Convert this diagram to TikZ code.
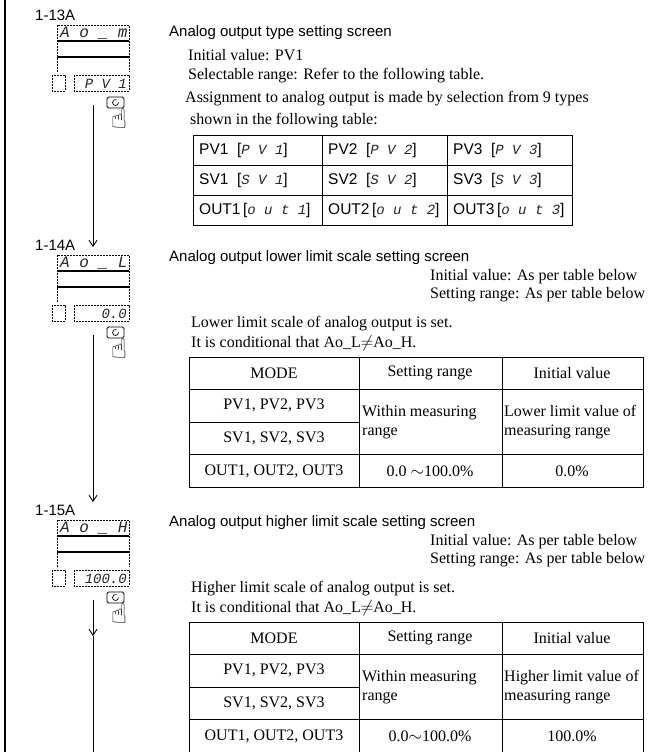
\documentclass[tikz,border=0pt]{standalone}
\usepackage{fontspec}
\setmainfont{Liberation Serif}
\setsansfont{Liberation Sans}
\newfontfamily\segfont{Liberation Mono}
\newfontfamily\symfont{DejaVu Sans}
\usetikzlibrary{arrows.meta}

\tikzset{
  head/.style={font=\sffamily\fontsize{15}{18}\selectfont, anchor=west, inner sep=0pt},
  body/.style={font=\fontsize{16}{19}\selectfont, anchor=west, inner sep=0pt},
  cell/.style={font=\fontsize{16}{19}\selectfont, inner sep=0pt},
  tcell/.style={font=\sffamily\fontsize{15.5}{18}\selectfont, anchor=west, inner sep=0pt},
  seg/.style={font=\segfont\itshape\fontsize{16}{16}\selectfont, text=black!85, inner sep=0pt},
  segval/.style={seg, font=\segfont\itshape\fontsize{14}{14}\selectfont},
  dotbox/.style={line width=0.9pt, dash pattern=on 1.6pt off 1.4pt},
  segline/.style={line width=1.1pt},
  tabline/.style={line width=1pt},
  flow/.style={line width=0.9pt},
  tipv/.style={-{Straight Barb[length=6pt,width=8pt]}},
}

\newcommand\seg[1]{{\segfont\itshape\fontsize{14}{14}\selectfont\color{black!85}#1}}

% display panel: #1 top, #2 label, #3 top text, #4 value, #5 name
\newcommand\panel[5]{%
  \node[head, anchor=west] (#5lbl) at (35,#1-10) {#2};
  \draw[dotbox] (57,#1+47) -- (57,#1) -- (129,#1) -- (129,#1+47);
  \draw[segline] (57,#1+16) -- (129,#1+16);
  \draw[segline] (57,#1+32) -- (129,#1+32);
  \node[seg, anchor=west] (#5top) at (60,#1+8.5) {#3};
  \draw[dotbox] (52,#1+50) rectangle (65,#1+66);
  \draw[dotbox] (74,#1+50) rectangle (129,#1+66);
  \node[segval, anchor=east] (#5val) at (127,#1+58.5) {#4};
  \draw[line width=0.9pt, rounded corners=1.5pt] (107,#1+72) rectangle (124,#1+83);
  \draw[line width=0.7pt] (118.5,#1+77.5) arc[start angle=0, end angle=290, radius=3];
  \node[font=\symfont\fontsize{27}{27}\selectfont, inner sep=0pt] (#5hand) at (119,#1+94) {☝};
  \coordinate (#5out) at (93,#1+80);
}

% mode table: #1 top, #2 name, #3 limit word, #4 range text, #5 initial value
\newcommand\modetable[5]{%
  \draw[tabline] (189,#1) rectangle (643,#1+130);
  \draw[tabline] (189,#1+32) -- (643,#1+32);
  \draw[tabline] (189,#1+65) -- (359,#1+65);
  \draw[tabline] (189,#1+97) -- (643,#1+97);
  \draw[tabline] (359,#1) -- (359,#1+130);
  \draw[tabline] (502,#1) -- (502,#1+130);
  \node[cell] (#2mode) at (274,#1+16) {MODE};
  \node[cell] (#2set) at (430,#1+16) {Setting range};
  \node[cell] (#2ini) at (572,#1+16) {Initial value};
  \node[cell] (#2pv) at (274,#1+48) {PV1, PV2, PV3};
  \node[cell] (#2sv) at (274,#1+81) {SV1, SV2, SV3};
  \node[cell] (#2out) at (274,#1+114) {OUT1, OUT2, OUT3};
  \node[cell, anchor=west, align=left] (#2within) at (362,#1+65) {Within measuring\\range};
  \node[cell, anchor=west, align=left] (#2limit) at (504,#1+65) {#3 limit value of\\measuring range};
  \node[cell] (#2outset) at (430,#1+114) {#4};
  \node[cell] (#2outini) at (572,#1+114) {#5};
}

\begin{document}
\begin{tikzpicture}[x=1pt,y=-1pt]
  \useasboundingbox (0,0) rectangle (653,752);
  \fill[white] (0,0) rectangle (653,752);

  \draw[line width=1.2pt] (5,0) -- (5,752);

  %%% 1-13A
  \panel{25}{1-13A}{A o \_ m}{P V 1}{a}
  \node[head] (headA) at (169,33) {Analog output type setting screen};
  \node[body] (initA) at (188,55) {Initial value: PV1};
  \node[body] (rangeA) at (188,76) {Selectable range: Refer to the following table.};
  \node[body] (assignA) at (185,99) {Assignment to analog output is made by selection from 9 types};
  \node[body] (shownA) at (190,121) {shown in the following table:};

  \draw[tabline] (193,135) rectangle (572,225);
  \draw[tabline] (193,165) -- (572,165);
  \draw[tabline] (193,195) -- (572,195);
  \draw[tabline] (322,135) -- (322,225);
  \draw[tabline] (447,135) -- (447,225);
  \foreach \c/\x in {1/199,2/328,3/453} {
    \node[tcell] (pv\c) at (\x,150) {PV\c~~[\seg{P V \c}]};
    \node[tcell] (sv\c) at (\x,180) {SV\c~~[\seg{S V \c}]};
    \node[tcell] (out\c) at (\x,210) {OUT\c\,[\seg{o u t \c}]};
  }

  \coordinate (inB) at (93,247);
  \draw[flow, tipv] (aout) -- (inB);

  %%% 1-14A
  \panel{255}{1-14A}{A o \_ L}{0.0}{b}
  \node[head] (headB) at (169,258) {Analog output lower limit scale setting screen};
  \node[body] (initB) at (430,277) {Initial value: As per table below};
  \node[body] (rangeB) at (430,295) {Setting range: As per table below};
  \node[body] (noteB) at (191,324) {Lower limit scale of analog output is set.};
  \node[body] (condB) at (191,343) {It is conditional that Ao\_L$\neq$Ao\_H.};
  \modetable{357}{tb}{Lower}{0.0 $\sim$100.0\%}{0.0\%}

  \coordinate (inC) at (93,502);
  \draw[flow, tipv] (bout) -- (inC);

  %%% 1-15A
  \panel{520}{1-15A}{A o \_ H}{100.0}{c}
  \node[head] (headC) at (169,523) {Analog output higher limit scale setting screen};
  \node[body] (initC) at (430,542) {Initial value: As per table below};
  \node[body] (rangeC) at (430,560) {Setting range: As per table below};
  \node[body] (noteC) at (191,589) {Higher limit scale of analog output is set.};
  \node[body] (condC) at (191,608) {It is conditional that Ao\_L$\neq$Ao\_H.};
  \modetable{622}{tc}{Higher}{0.0$\sim$100.0\%}{100.0\%}

  \coordinate (midC) at (93,636);
  \coordinate (endC) at (93,752);
  \draw[flow, tipv] (cout) -- (midC);
  \draw[flow] (midC) -- (endC);
\end{tikzpicture}
\end{document}
